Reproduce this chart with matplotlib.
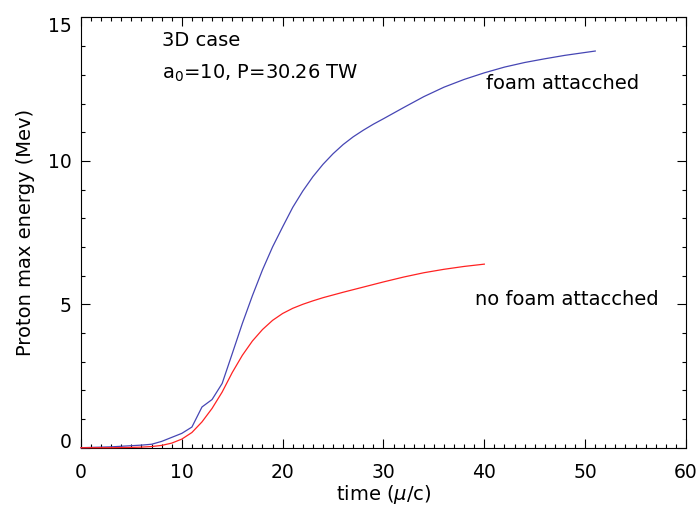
import matplotlib
matplotlib.use('Agg')
import matplotlib.pyplot as plt
from matplotlib.ticker import MultipleLocator
import numpy as np

plt.rcParams['font.family'] = ['DejaVu Sans']
plt.rcParams['mathtext.fontset'] = 'dejavusans'

# proton max energy (MeV) vs time, target with foam layer
t_foam = [0, 1, 2, 3, 4, 5, 6, 7, 8, 9, 10, 11, 12, 13, 14, 15, 16, 17, 18,
          19, 20, 21, 22, 23, 24, 25, 26, 27, 28, 29, 30, 32, 34, 36, 38, 40,
          42, 44, 46, 48, 51]
e_foam = [0.0, 0.01, 0.02, 0.03, 0.05, 0.07, 0.09, 0.12, 0.22, 0.36, 0.50,
          0.72, 1.42, 1.68, 2.24, 3.28, 4.33, 5.30, 6.20, 7.00, 7.70, 8.38,
          8.95, 9.45, 9.88, 10.25, 10.57, 10.84, 11.07, 11.28, 11.47, 11.86,
          12.24, 12.57, 12.84, 13.07, 13.27, 13.43, 13.56, 13.68, 13.83]

# same run without the foam layer
t_nofoam = [0, 1, 2, 3, 4, 5, 6, 7, 8, 9, 10, 11, 12, 13, 14, 15, 16, 17,
            18, 19, 20, 21, 22, 23, 24, 26, 28, 30, 32, 34, 36, 38, 40]
e_nofoam = [0.0, 0.0, 0.0, 0.0, 0.005, 0.01, 0.02, 0.04, 0.08, 0.16, 0.30,
            0.53, 0.90, 1.37, 1.94, 2.62, 3.22, 3.72, 4.12, 4.44, 4.68, 4.86,
            5.00, 5.12, 5.23, 5.42, 5.60, 5.78, 5.95, 6.10, 6.22, 6.32, 6.40]

x_ticks = [0, 10, 20, 30, 40, 50, 60]
y_ticks = [0, 5, 10, 15]

fig = plt.figure(figsize=(6.97, 5.08), dpi=100)
ax = fig.add_axes([0.1162, 0.1187, 0.8680, 0.8469])

ax.plot(t_foam, e_foam, color='#4646b4', lw=0.9, zorder=3, clip_on=False)
ax.plot(t_nofoam, e_nofoam, color='#ff2222', lw=0.9, zorder=3, clip_on=False)

ax.set_xlim(0, 60)
ax.set_ylim(0, 15)
ax.set_xticks(x_ticks)
ax.set_yticks(y_ticks)
ax.xaxis.set_minor_locator(MultipleLocator(1))
ax.yaxis.set_minor_locator(MultipleLocator(1))

for s in ax.spines.values():
    s.set_linewidth(0.8)
ax.tick_params(which='both', direction='in', top=True, right=True,
               width=0.8, labelsize=13.5)
ax.tick_params(which='major', length=6.5)
ax.tick_params(which='minor', length=3)
ax.tick_params(axis='x', pad=11)
ax.tick_params(axis='y', pad=7)

# keep the end labels of the y axis inside the axis range
for lab in ax.get_yticklabels():
    if lab.get_text() == '0':
        lab.set_verticalalignment('baseline')
    elif lab.get_text() == '15':
        lab.set_verticalalignment('top')

ax.set_xlabel(r'time ($\mu$/c)', fontsize=14, labelpad=1)
ax.set_ylabel('Proton max energy (Mev)', fontsize=14, labelpad=9)

ax.text(8.0, 13.99, '3D case', fontsize=14, va='baseline')
ax.text(8.0, 12.88, r'a$_0$=10, P=30.26 TW', fontsize=14, va='baseline')
ax.text(40.2, 12.49, 'foam attacched', fontsize=14, va='baseline')
ax.text(39.1, 4.97, 'no foam attacched', fontsize=14, va='baseline')

fig.savefig('out.png', dpi=100)
